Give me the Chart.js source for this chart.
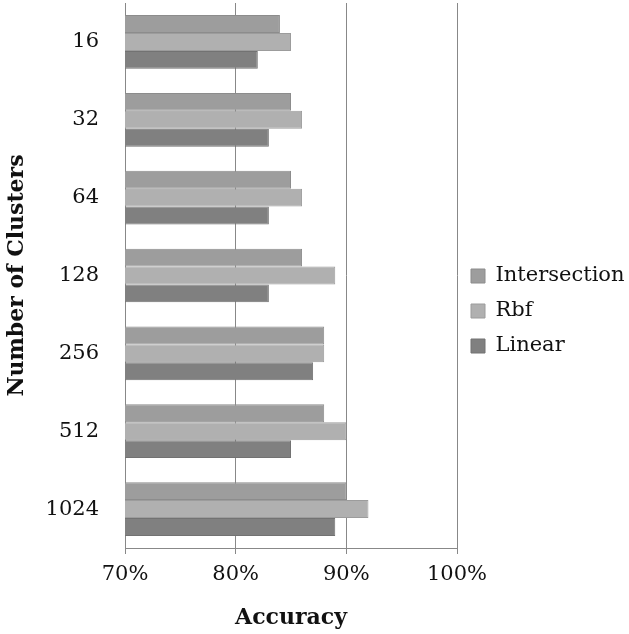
<!DOCTYPE html>
<html>
<head>
<meta charset="utf-8">
<script src="https://cdn.jsdelivr.net/npm/chart.js@4/dist/chart.umd.min.js"></script>
<style>
  html, body { margin: 0; padding: 0; background: #fff; }
  #wrap { width: 629px; height: 634px; }
</style>
</head>
<body>
<div id="wrap"><canvas id="acc"></canvas></div>
<script>
  var clusters = ['16', '32', '64', '128', '256', '512', '1024'];
  var intersection = [84, 85, 85, 86, 88, 88, 90];
  var rbf = [85, 86, 86, 89, 88, 90, 92];
  var linear = [82, 83, 83, 83, 87, 85, 89];
  var xTicks = [70, 80, 90, 100];

  var serif = 'DejaVu Serif';

  // fixed axis boxes so the plot sits where the original one does
  function fixX(scale) {
    scale.paddingLeft = 0;
    scale.paddingRight = 0;
    scale.height = 71;
  }
  function fixY(scale) {
    scale.paddingTop = 0;
    scale.paddingBottom = 0;
    scale.width = 121;
  }

  var ctx = document.getElementById('acc');
  new Chart(ctx, {
    type: 'bar',
    data: {
      labels: clusters,
      datasets: [
        {
          label: 'Intersection',
          data: intersection,
          backgroundColor: '#9d9d9d',
          borderColor: '#8c8c8c',
          borderWidth: 1
        },
        {
          label: 'Rbf',
          data: rbf,
          backgroundColor: '#b0b0b0',
          borderColor: '#9c9c9c',
          borderWidth: 1
        },
        {
          label: 'Linear',
          data: linear,
          backgroundColor: '#808080',
          borderColor: '#727272',
          borderWidth: 1
        }
      ]
    },
    options: {
      indexAxis: 'y',
      responsive: true,
      maintainAspectRatio: false,
      animation: false,
      layout: { padding: { top: 3, left: 4, right: 0, bottom: 15 } },
      datasets: {
        bar: { categoryPercentage: 0.69, barPercentage: 1 }
      },
      plugins: {
        legend: {
          position: 'right',
          maxWidth: 172,
          labels: {
            color: '#111',
            boxWidth: 14,
            boxHeight: 14,
            padding: 14,
            font: { family: serif, size: 21 }
          }
        },
        tooltip: { enabled: false }
      },
      scales: {
        x: {
          min: 70,
          max: 100,
          afterBuildTicks: function (axis) {
            axis.ticks = xTicks.map(function (v) { return { value: v }; });
          },
          afterFit: fixX,
          grid: {
            color: '#888',
            lineWidth: 1,
            tickLength: 6
          },
          border: { display: true, color: '#888' },
          ticks: {
            color: '#111',
            padding: 8,
            maxRotation: 0,
            font: { family: serif, size: 21 },
            callback: function (v) { return v + '%'; }
          },
          title: {
            display: true,
            text: 'Accuracy',
            color: '#111',
            padding: { top: 0, bottom: -12 },
            font: { family: serif, size: 22, weight: 'bold' }
          }
        },
        y: {
          afterFit: fixY,
          grid: { display: false, drawTicks: false },
          border: { display: true, color: '#888' },
          ticks: {
            color: '#111',
            padding: 26,
            font: { family: serif, size: 21 }
          },
          title: {
            display: true,
            text: 'Number of Clusters',
            color: '#111',
            padding: { top: 0, bottom: 4 },
            font: { family: serif, size: 22, weight: 'bold' }
          }
        }
      }
    }
  });
</script>
</body>
</html>
